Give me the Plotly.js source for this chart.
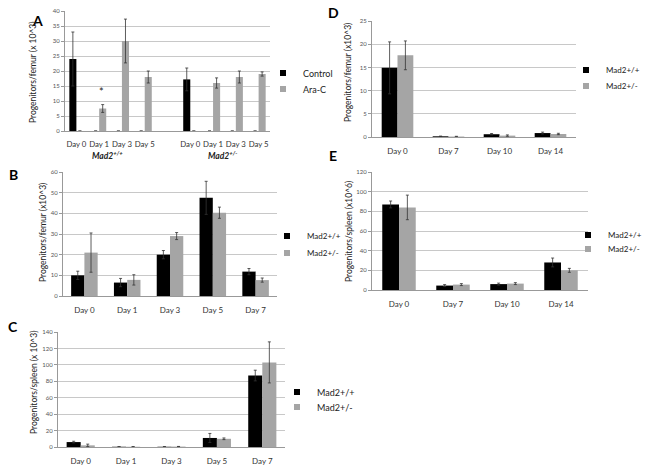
<!DOCTYPE html>
<html>
<head>
<meta charset="utf-8">
<script src="https://cdn.plot.ly/plotly-3.0.1.min.js"></script>
<style>html,body{margin:0;padding:0;background:#fff;}#chart{width:645px;height:472px;}</style>
</head>
<body>
<div id="chart"></div>
<script>
// ---------- Panel A ----------
const aX = [0, 1, 2, 3, 4, 5, 6, 7, 8];
const aTickVals = [0, 1, 2, 3, 5, 6, 7, 8];
const aTickText = ["Day 0", "Day 1", "Day 3", "Day 5", "Day 0", "Day 1", "Day 3", "Day 5"];
const aControl = [24, 0, 0, 0, null, 17.2, 0, 0, 0];
const aControlErr = [9, 0, 0, 0, 0, 3.8, 0, 0, 0];
const aAraC = [0, 7.5, 30, 18, null, 0, 16, 18, 19];
const aAraCErr = [0, 1.3, 7.3, 2, 0, 0, 1.7, 2, 0.7];

// ---------- Panel B ----------
const bDays = ["Day 0", "Day 1", "Day 3", "Day 5", "Day 7"];
const bWT = [10, 6.5, 20, 47.5, 11.8];
const bWTErr = [2, 2, 2, 8, 1.5];
const bHet = [21, 7.8, 29, 40.3, 7.7];
const bHetErr = [9.5, 2.5, 1.7, 2.7, 1];

// ---------- Panel C ----------
const cDays = ["Day 0", "Day 1", "Day 3", "Day 5", "Day 7"];
const cWT = [6, 0.3, 0.3, 11, 87];
const cWTErr = [1, 0.2, 0.2, 5.5, 6.5];
const cHet = [2, 0.3, 0.5, 10, 103];
const cHetErr = [1.5, 0.2, 0.2, 1, 25];

// ---------- Panel D ----------
const dDays = ["Day 0", "Day 7", "Day 10", "Day 14"];
const dWT = [14.9, 0.15, 0.6, 0.85];
const dWTErr = [5.6, 0.05, 0.15, 0.2];
const dHet = [17.6, 0.1, 0.3, 0.65];
const dHetErr = [3.1, 0.05, 0.15, 0.15];

// ---------- Panel E ----------
const eDays = ["Day 0", "Day 7", "Day 10", "Day 14"];
const eWT = [87, 4.5, 6, 28];
const eWTErr = [3.5, 1, 1, 4.5];
const eHet = [84, 5.5, 6.5, 20];
const eHetErr = [12.5, 1, 1, 2];

const BLACK = "#000000";
const GREY = "#a5a5a5";
const FONT = "Lato, 'Open Sans', sans-serif";

function errs(arr) {
  return {type: "data", array: arr, visible: true, color: "#333", thickness: 0.8, width: 1.5};
}
function bar(x, y, e, name, color, xa, ya) {
  return {type: "bar", x: x, y: y, error_y: errs(e), name: name, marker: {color: color},
          xaxis: xa, yaxis: ya, showlegend: false, hoverinfo: "x+y"};
}
function key(name, color, xa, ya, legend) {
  return {type: "scatter", mode: "markers", x: [null], y: [null], name: name,
          marker: {symbol: "square", size: 6, color: color}, xaxis: xa, yaxis: ya,
          legend: legend, showlegend: true, hoverinfo: "skip"};
}

const data = [
  bar(aX, aControl, aControlErr, "Control", BLACK, "x", "y"),
  bar(aX, aAraC, aAraCErr, "Ara-C", GREY, "x", "y"),
  bar(bDays, bWT, bWTErr, "Mad2+/+", BLACK, "x2", "y2"),
  bar(bDays, bHet, bHetErr, "Mad2+/-", GREY, "x2", "y2"),
  bar(cDays, cWT, cWTErr, "Mad2+/+", BLACK, "x3", "y3"),
  bar(cDays, cHet, cHetErr, "Mad2+/-", GREY, "x3", "y3"),
  bar(dDays, dWT, dWTErr, "Mad2+/+", BLACK, "x4", "y4"),
  bar(dDays, dHet, dHetErr, "Mad2+/-", GREY, "x4", "y4"),
  bar(eDays, eWT, eWTErr, "Mad2+/+", BLACK, "x5", "y5"),
  bar(eDays, eHet, eHetErr, "Mad2+/-", GREY, "x5", "y5"),
  key("Control", BLACK, "x", "y", "legend"),
  key("Ara-C", GREY, "x", "y", "legend2"),
  key("Mad2+/+", BLACK, "x2", "y2", "legend3"),
  key("Mad2+/-", GREY, "x2", "y2", "legend4"),
  key("Mad2+/+", BLACK, "x3", "y3", "legend5"),
  key("Mad2+/-", GREY, "x3", "y3", "legend6"),
  key("Mad2+/+", BLACK, "x4", "y4", "legend7"),
  key("Mad2+/-", GREY, "x4", "y4", "legend8"),
  key("Mad2+/+", BLACK, "x5", "y5", "legend9"),
  key("Mad2+/-", GREY, "x5", "y5", "legend10")
];

const W = 645, H = 472;
function xd(l, r) { return [l / W, r / W]; }
function yd(t, b) { return [1 - b / H, 1 - t / H]; }

function xaxis(dom, anchor, extra) {
  return Object.assign({domain: dom, anchor: anchor, showline: true, linecolor: "#999", linewidth: 1,
    ticks: "", ticklabelstandoff: 6, tickangle: 0, tickfont: {family: FONT, size: 8, color: "#333"},
    showgrid: false, fixedrange: true}, extra || {});
}
function yaxis(dom, anchor, range, dtick) {
  return {domain: dom, anchor: anchor, range: range, dtick: dtick, showline: true, linecolor: "#999", linewidth: 1,
    ticks: "outside", ticklen: 3, tickcolor: "#999", showgrid: true, gridcolor: "#c8c8c8", gridwidth: 1,
    tickfont: {family: FONT, size: 6, color: "#555"}, zeroline: false, fixedrange: true};
}
function legend(xpx, ypx, size) {
  return {x: xpx / W, y: 1 - ypx / H, xanchor: "left", yanchor: "middle", bgcolor: "rgba(0,0,0,0)",
    itemsizing: "trace", font: {family: FONT, size: size || 9, color: "#222"}, borderwidth: 0};
}
function ytitle(text, xpx, ypx) {
  return {text: text, x: xpx / W, y: 1 - ypx / H, xref: "paper", yref: "paper", showarrow: false,
    xanchor: "center", yanchor: "middle", textangle: -90, font: {family: FONT, size: 8.5, color: "#222"}};
}
function letter(text, xpx, ypx) {
  return {text: "<b>" + text + "</b>", x: xpx / W, y: 1 - ypx / H, xref: "paper", yref: "paper",
    xanchor: "center", yanchor: "middle", showarrow: false, font: {family: FONT, size: 14, color: "#000"}};
}
function genotype(text, xval, ypx) {
  return {text: text, x: xval, xref: "x", y: 1 - ypx / H, yref: "paper", showarrow: false,
    xanchor: "center", yanchor: "middle", font: {family: FONT, size: 8.5, color: "#222"}};
}

const layout = {
  width: W, height: H,
  margin: {l: 0, r: 0, t: 0, b: 0, autoexpand: false},
  paper_bgcolor: "#ffffff", plot_bgcolor: "#ffffff",
  barmode: "group", bargap: 0.38, bargroupgap: 0,
  showlegend: true,
  font: {family: FONT},
  xaxis: xaxis(xd(65, 270), "y", {tickmode: "array", tickvals: aTickVals, ticktext: aTickText, range: [-0.5, 8.5], tickfont: {family: FONT, size: 7.8, color: "#333"}}),
  yaxis: yaxis(yd(11, 131), "x", [0, 40], 5),
  xaxis2: xaxis(xd(63, 277), "y2"),
  yaxis2: yaxis(yd(172, 296), "x2", [0, 60], 10),
  xaxis3: xaxis(xd(58, 285), "y3"),
  yaxis3: yaxis(yd(332, 447), "x3", [0, 140], 20),
  xaxis4: xaxis(xd(372, 576), "y4"),
  yaxis4: yaxis(yd(21, 137), "x4", [0, 25], 5),
  xaxis5: xaxis(xd(372, 588), "y5"),
  yaxis5: yaxis(yd(172, 290), "x5", [0, 120], 20),
  legend: legend(263, 73),
  legend2: legend(263, 89),
  legend3: legend(267, 236, 8),
  legend4: legend(267, 253, 8),
  legend5: legend(277, 392),
  legend6: legend(277, 407),
  legend7: legend(566, 70, 8),
  legend8: legend(566, 86, 8),
  legend9: legend(568, 235, 8),
  legend10: legend(568, 249, 8),
  annotations: [
    letter("A", 37, 20),
    letter("B", 13, 174),
    letter("C", 13, 326),
    letter("D", 333, 12),
    letter("E", 333, 155),
    ytitle("Progenitors/femur (x 10^3)", 33, 72),
    ytitle("Progenitors/femur (x10^3)", 43, 233),
    ytitle("Progenitors/spleen (x 10^3)", 34, 382),
    ytitle("Progenitors/femur (x10^3)", 348, 73),
    ytitle("Progenitors/spleen (x10^6)", 349, 232),
    genotype("<b><i>Mad2</i></b><sup><b><i>+/+</i></b></sup>", 1.35, 155),
    genotype("<b><i>Mad2</i></b><sup><b><i>+/-</i></b></sup>", 6.4, 155),
    {text: "*", x: 1.1, xref: "x", y: 13.2, yref: "y", showarrow: false, xanchor: "center", yanchor: "middle",
     font: {family: FONT, size: 11, color: "#222"}}
  ]
};

Plotly.newPlot("chart", data, layout, {displayModeBar: false, staticPlot: true});
</script>
</body>
</html>
